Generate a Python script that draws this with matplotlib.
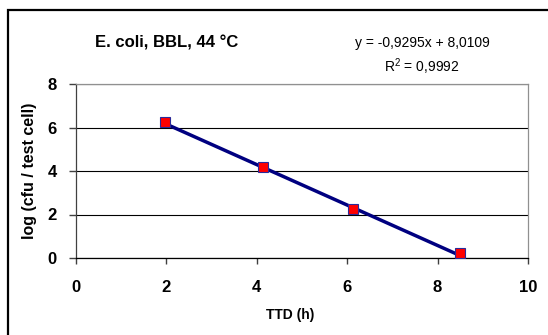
import numpy as np
import matplotlib
matplotlib.use('Agg')
import matplotlib.pyplot as plt
from matplotlib.patches import Rectangle

plt.rcParams['font.family'] = ['Liberation Sans', 'DejaVu Sans']

# data
ttd = [1.98, 4.13, 6.13, 8.49]
logcfu = [6.26, 4.20, 2.25, 0.22]
slope, intercept = -0.9295, 8.0109
r2 = 0.9992
xticks = [0, 2, 4, 6, 8, 10]
yticks = [0, 2, 4, 6, 8]

fig = plt.figure(figsize=(5.48, 3.35), dpi=100)
ax = fig.add_axes([76/548, 1-258/335, (528-76)/548, (258-84)/335])

# outer chart frame
fig.patches.append(Rectangle((7.5/548, -0.1), 1.2, 1.1 - 9.5/335,
                             transform=fig.transFigure, fill=False,
                             edgecolor='black', linewidth=1.6))

xf = np.array([ttd[0], ttd[-1]])
ax.plot(xf, slope*xf + intercept, color='#000080', lw=2.5, zorder=3)
ax.plot(ttd, logcfu, ls='none', marker='s', ms=7.5, mfc='#ff0000',
        mec='#2a2a9a', mew=0.8, zorder=4)

ax.set_xlim(0, 10)
ax.set_ylim(0, 8)
ax.set_xticks(xticks)
ax.set_yticks(yticks)
ax.yaxis.grid(True, color='black', lw=0.8)
ax.spines['top'].set_color('#909090')
ax.spines['right'].set_color('#909090')
ax.spines['left'].set_color('#404040')
ax.spines['bottom'].set_color('black')
for s in ax.spines.values():
    s.set_linewidth(0.9)
ax.tick_params(axis='x', direction='out', length=4, width=1, color='#404040', pad=12)
ax.tick_params(axis='y', direction='out', length=5, width=1, color='#404040', pad=9)
for lab in ax.get_xticklabels() + ax.get_yticklabels():
    lab.set_fontweight('bold')
    lab.set_fontsize(12)

fig.text(290/548, 1-315/335, 'TTD (h)', ha='center', va='center',
         fontsize=10, fontweight='bold')
fig.text(30/548, 1-171/335, 'log (cfu / test cell)', ha='center', va='center',
         rotation=90, fontsize=11.5, fontweight='bold')
fig.text(167/548, 1-43/335, 'E. coli, BBL, 44 °C', ha='center', va='center',
         fontsize=12, fontweight='bold')
eq = 'y = %sx + %s' % (('%.4f' % slope).replace('.', ','), ('%.4f' % intercept).replace('.', ','))
fig.text(422/548, 1-43/335, eq, ha='center', va='center', fontsize=10)
fig.text(422/548, 1-67/335, '$\\mathregular{R^2}$ = ' + ('%.4f' % r2).replace('.', ','),
         ha='center', va='center', fontsize=10)

fig.savefig('out.png', dpi=100)
